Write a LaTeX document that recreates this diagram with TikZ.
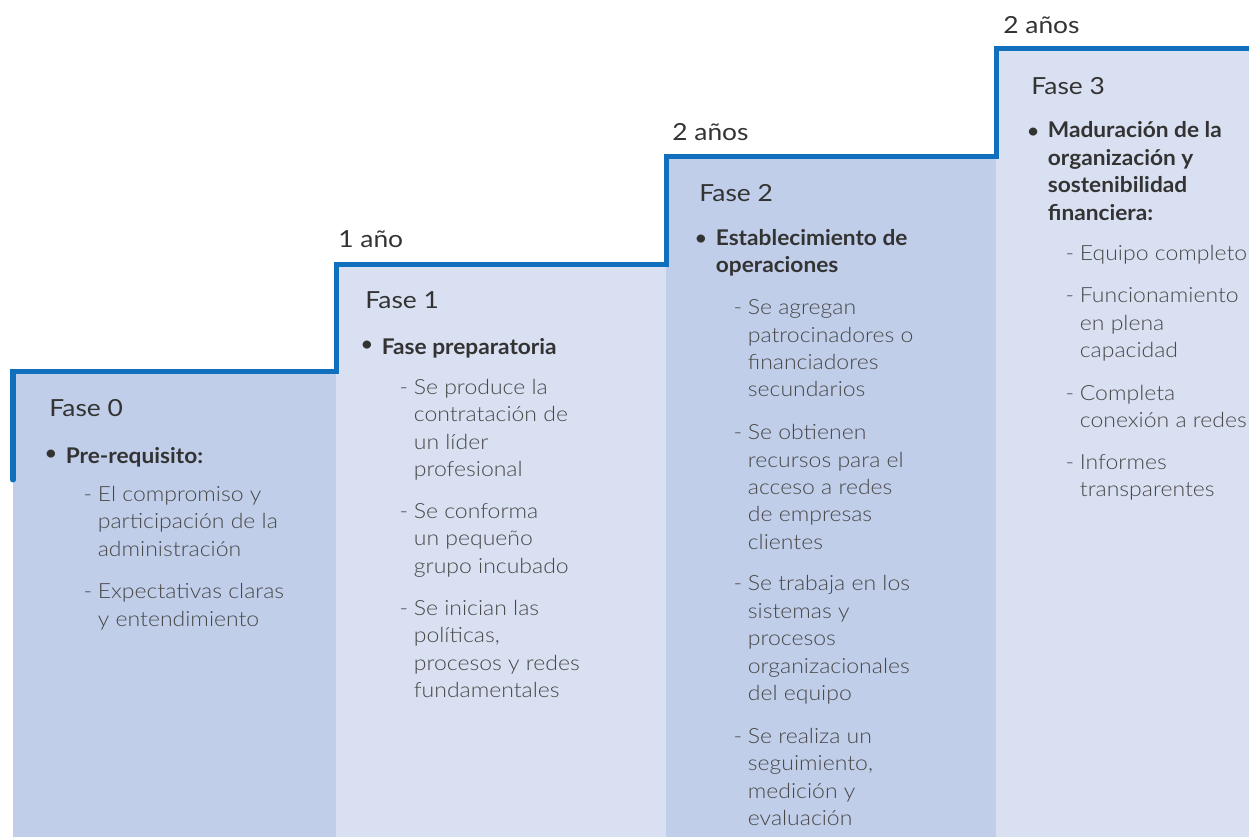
\documentclass[tikz,border=0pt]{standalone}
\usepackage{fontspec}
\setmainfont{Lato}
\newfontfamily\lightfont{Lato Light}[FakeStretch=1.1]
\newfontfamily\headfam{Lato}[FakeStretch=1.12]
\newfontfamily\pointfam{Lato}[FakeStretch=1.05]
\usetikzlibrary{positioning}

\definecolor{stepblue}{RGB}{16,112,190}
\definecolor{darkfill}{RGB}{192,206,233}
\definecolor{lightfill}{RGB}{216,224,241}
\definecolor{headgray}{RGB}{51,51,51}
\definecolor{bodygray}{RGB}{72,72,72}

\newcommand\headfont{\headfam\fontsize{13.4}{16}\selectfont}
\newcommand\bodyfont{\lightfont\fontsize{11.9}{15.6}\selectfont}
\newcommand\pointfont{\pointfam\fontsize{12.3}{15.6}\selectfont\bfseries}

\begin{document}
\begin{tikzpicture}[
  col/.style={inner sep=0pt, outer sep=0pt, anchor=south west},
  stepline/.style={draw=stepblue, line width=0.1cm, line join=miter, line cap=round},
  yearlbl/.style={font=\headfont, text=headgray, inner sep=0pt},
  phase/.style={font=\headfont, text=headgray, inner sep=0pt},
  dashlbl/.style={font=\bodyfont, text=bodygray, inner sep=0pt, anchor=north east, xshift=-0.1cm, execute at begin node=\strut},
  dotlbl/.style={font=\pointfam\fontsize{12.3}{15.6}\selectfont, text=headgray, inner sep=0pt, anchor=north east, xshift=-0.15cm, yshift=0.06cm, execute at begin node=\strut},
  point/.style={font=\pointfont, text=headgray, align=left, inner sep=0pt, anchor=north west,
    execute at begin node=\strut, execute at end node=\strut, label={[dotlbl]north west:•}},
  itemtext/.style={font=\bodyfont, text=bodygray, align=left, inner sep=0pt, anchor=north west,
    execute at begin node=\strut, execute at end node=\strut},
  item/.style={itemtext, label={[dashlbl, yshift=0.08cm]north west:-}},
  itemone/.style={itemtext, label={[dashlbl]north west:-}}
]
  \useasboundingbox (0,0) rectangle (24.98,16.74);

  % Escalones
  \node[col, fill=darkfill, minimum width=6.46cm, minimum height=9.3cm] (col0) at (0.26,0) {};
  \node[col, fill=lightfill, minimum width=6.6cm, minimum height=11.44cm, right=0cm of col0.south east, anchor=south west] (col1) {};
  \node[col, fill=darkfill, minimum width=6.6cm, minimum height=13.6cm, right=0cm of col1.south east, anchor=south west] (col2) {};
  \node[col, fill=lightfill, minimum width=5.06cm, minimum height=15.76cm, right=0cm of col2.south east, anchor=south west] (col3) {};

  \draw[stepline] ([yshift=-2.16cm]col0.north west) -- (col0.north west) -- (col0.north east)
    -- (col1.north west) -- (col1.north east) -- (col2.north west) -- (col2.north east)
    -- (col3.north west) -- (col3.north east);

  % Duraciones
  \node[yearlbl, above right=0.34cm and 0.04cm of col1.north west] (year1) {1 año};
  \node[yearlbl, above right=0.31cm and 0.12cm of col2.north west] (year2) {2 años};
  \node[yearlbl, above right=0.30cm and 0.14cm of col3.north west] (year3) {2 años};

  % Fase 0
  \node[phase, below right=0.89cm and 0.72cm of col0.north west, anchor=base west] (fase0) {Fase 0};
  \node[point, below right=0.53cm and 0.33cm of fase0.south west] (pre0) {Pre-requisito:};
  \node[item, below right=0.28cm and 0.64cm of pre0.south west] (it0a) {El compromiso y\\participación de la\\administración};
  \node[item, below right=0.37cm and 0cm of it0a.south west] (it0b) {Expectativas claras\\y entendimiento};

  % Fase 1
  \node[phase, below right=0.87cm and 0.58cm of col1.north west, anchor=base west] (fase1) {Fase 1};
  \node[point, below right=0.51cm and 0.33cm of fase1.south west] (pre1) {Fase preparatoria};
  \node[item, below right=0.32cm and 0.64cm of pre1.south west] (it1a) {Se produce la\\contratación de\\un líder\\profesional};
  \node[item, below right=0.36cm and 0cm of it1a.south west] (it1b) {Se conforma\\un pequeño\\grupo incubado};
  \node[item, below right=0.36cm and 0cm of it1b.south west] (it1c) {Se inician las\\políticas,\\procesos y redes\\fundamentales};

  % Fase 2
  \node[phase, below right=0.89cm and 0.66cm of col2.north west, anchor=base west] (fase2) {Fase 2};
  \node[point, below right=0.54cm and 0.33cm of fase2.south west] (pre2) {Establecimiento de\\operaciones};
  \node[item, below right=0.36cm and 0.64cm of pre2.south west] (it2a) {Se agregan\\patrocinadores o\\financiadores\\secundarios};
  \node[item, below right=0.37cm and 0cm of it2a.south west] (it2b) {Se obtienen\\recursos para el\\acceso a redes\\de empresas\\clientes};
  \node[item, below right=0.35cm and 0cm of it2b.south west] (it2c) {Se trabaja en los\\sistemas y\\procesos\\organizacionales\\del equipo};
  \node[item, below right=0.37cm and 0cm of it2c.south west] (it2d) {Se realiza un\\seguimiento,\\medición y\\evaluación};

  % Fase 3
  \node[phase, below right=0.92cm and 0.7cm of col3.north west, anchor=base west] (fase3) {Fase 3};
  \node[point, below right=0.52cm and 0.33cm of fase3.south west] (pre3) {Maduración de la\\organización y\\sostenibilidad\\financiera:};
  \node[itemone, below right=0.24cm and 0.64cm of pre3.south west] (it3a) {Equipo completo};
  \node[item, below right=0.37cm and 0cm of it3a.south west] (it3b) {Funcionamiento\\en plena\\capacidad};
  \node[item, below right=0.37cm and 0cm of it3b.south west] (it3c) {Completa\\conexión a redes};
  \node[item, below right=0.36cm and 0cm of it3c.south west] (it3d) {Informes\\transparentes};

\end{tikzpicture}
\end{document}
